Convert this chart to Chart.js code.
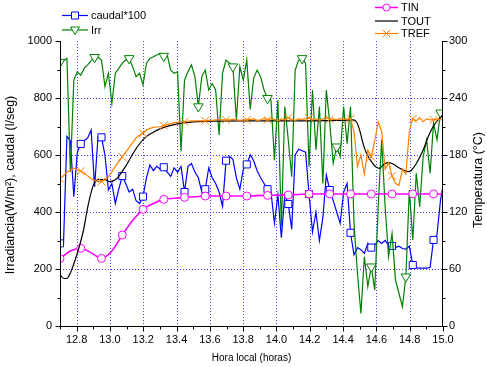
<!DOCTYPE html>
<html>
<head>
<meta charset="utf-8">
<script src="https://cdn.jsdelivr.net/npm/chart.js@4.4.1/dist/chart.umd.min.js"></script>
<style>
  html, body { margin: 0; padding: 0; background: #ffffff; }
  #wrap { width: 487px; height: 367px; position: relative; }
</style>
</head>
<body>
<div id="wrap"><canvas id="c" width="487" height="367"></canvas></div>
<script>
// Sampling of the logged records (hours, local time)
const T0 = 12.70;
const DT = 0.02077;

// Axis ticks
const xTicks = [12.8, 13.0, 13.2, 13.4, 13.6, 13.8, 14.0, 14.2, 14.4, 14.6, 14.8, 15.0];
const leftTicks = [0, 200, 400, 600, 800, 1000];
const rightTicks = [0, 60, 120, 180, 240, 300];

// Irradiance (W/m2), one value every DT
const irr = [
  926, 931, 939, 540, 863, 892, 880, 904, 916, 931,
  943, 943, 933, 840, 887, 781, 887, 904, 922, 933,
  939, 910, 875, 887, 846, 922, 939, 945, 951, 957,
  947, 951, 898, 887, 892, 612, 863, 892, 916, 875,
  770, 875, 898, 828, 851, 828, 670, 887, 933, 922,
  910, 723, 910, 863, 933, 760, 870, 898, 875, 828,
  799, 793, 582, 793, 348, 770, 653, 524, 898, 933,
  939, 922, 559, 828, 618, 770, 500, 828, 711, 571,
  629, 594, 770, 640, 770, 360, 185, 44, 243, 138,
  208, 126, 419, 653, 419, 243, 325, 161, 115, 68,
  173, 477, 302, 536, 419, 594, 653, 536, 711, 653,
  748, 740
];

// Flow rate x100 (l/seg), one value every DT
const caudal = [
  290, 285, 665, 650, 454, 610, 639, 650, 660, 688,
  489, 664, 662, 600, 477, 500, 430, 480, 526, 500,
  470, 480, 440, 430, 454, 520, 565, 545, 560, 550,
  557, 540, 525, 555, 540, 560, 470, 560, 570, 540,
  520, 470, 480, 555, 520, 500, 470, 420, 580, 595,
  585, 520, 480, 550, 567, 600, 580, 545, 520, 500,
  480, 470, 360, 460, 310, 460, 428, 340, 600, 620,
  615, 610, 463, 330, 400, 300, 380, 530, 477, 440,
  400, 360, 470, 500, 327, 250, 275, 268, 255, 290,
  275, 285, 300, 290, 300, 282, 281, 275, 280, 272,
  270, 280, 214, 205, 203, 203, 203, 205, 302, 320,
  440, 510
];

// Reference temperature (°C), one value every DT
const tref = [
  155, 158, 162, 164, 166, 164, 163, 161, 158, 155,
  153, 152, 152, 154, 157, 162, 168, 173, 178, 183,
  188, 193, 198, 201, 203, 206, 208, 209, 209.5, 210,
  211, 212, 213, 214, 214.5, 215, 215, 215.5, 216, 216,
  216, 216, 216, 216.5, 216.5, 217, 217, 217, 217, 217,
  217.5, 217, 216.5, 217, 217, 217.5, 218, 216.5, 217, 218.5,
  217, 218, 217.5, 216, 218, 217, 219, 217.5, 216.5, 218,
  217.5, 218, 219, 217, 218, 216.5, 218, 219, 217.5, 218,
  217, 218.5, 217.5, 218, 218, 205, 168, 180, 160, 185,
  178, 195, 215, 205, 165, 172, 158, 150, 148, 165,
  160, 205, 218, 216, 219, 215, 218, 217, 217, 218,
  217, 218
];

// Inlet temperature (°C), one value every 3*DT
const tin = [
  71, 79, 81.8, 77, 71.2, 79, 95.8, 111, 122.8, 129,
  133.3, 134.5, 135.4, 136, 136.8, 136.8, 136.8, 136.8, 136.8, 137.2,
  137.5, 137.7, 137.9, 138.5, 139, 139, 139, 139, 139, 139,
  139, 139, 139, 139, 139, 139, 139, 139
];

// Outlet temperature (°C) at irregular times
const toutTime = [
  12.70, 12.724, 12.74, 12.76, 12.78, 12.81, 12.84, 12.87, 12.90, 12.93,
  12.97, 13.00, 13.04, 13.09, 13.13, 13.17, 13.21, 13.25, 13.30, 13.36,
  13.45, 13.60, 13.80, 14.00, 14.20, 14.40, 14.46, 14.48, 14.50, 14.52,
  14.54, 14.57, 14.60, 14.62, 14.64, 14.67, 14.70, 14.74, 14.79, 14.81,
  14.84, 14.88, 14.92, 14.96, 15.00
];
const toutVal = [
  54, 50, 50, 55, 64, 80, 100, 128, 148, 154,
  154, 152, 155, 167, 179, 190, 198, 203, 207.5, 211,
  214, 215.5, 216, 216, 216, 216.5, 217, 215, 206, 192,
  182, 173, 167, 166, 169.5, 172, 170.5, 166, 162.5, 164,
  171, 185, 203, 215, 222
];

const FONT = '"Liberation Sans", Arial, sans-serif';

const onGrid = (vals, step) => vals.map((v, i) => ({ x: T0 + i * step, y: v }));
const everyNth = n => ctx => (ctx.dataIndex % n === 0 ? 1 : 0);

const C_BLUE = '#0000ff', C_GREEN = '#008000', C_MAG = '#ff00ff', C_ORANGE = '#ff8000';

// Frame: dotted grid under the data, axis lines and tick marks on top
const framePlugin = {
  id: 'frame',
  beforeDatasetsDraw(chart) {
    const { ctx, chartArea: a, scales } = chart;
    ctx.save();
    ctx.strokeStyle = 'rgba(20,20,255,0.8)';
    ctx.lineWidth = 1;
    ctx.setLineDash([1, 2]);
    xTicks.forEach(v => {
      const px = Math.round(scales.x.getPixelForValue(v)) + 0.5;
      if (px <= a.left + 1 || px >= a.right - 1) return;
      ctx.beginPath(); ctx.moveTo(px, a.top); ctx.lineTo(px, a.bottom); ctx.stroke();
    });
    leftTicks.forEach(v => {
      const py = Math.round(scales.y.getPixelForValue(v)) + 0.5;
      if (py <= a.top + 1 || py >= a.bottom - 1) return;
      ctx.beginPath(); ctx.moveTo(a.left, py); ctx.lineTo(a.right, py); ctx.stroke();
    });
    ctx.restore();
  },
  afterDatasetsDraw(chart) {
    const { ctx, chartArea: a, scales } = chart;
    const L = Math.round(a.left) + 0.5, R = Math.round(a.right) - 0.5, B = Math.round(a.bottom) + 0.5;
    ctx.save();
    ctx.strokeStyle = '#000';
    ctx.lineWidth = 1;
    ctx.beginPath();
    ctx.moveTo(L, a.top); ctx.lineTo(L, B); ctx.lineTo(R, B); ctx.lineTo(R, a.top);
    ctx.stroke();
    const tick = (x1, y1, x2, y2) => { ctx.beginPath(); ctx.moveTo(x1, y1); ctx.lineTo(x2, y2); ctx.stroke(); };
    // bottom axis
    for (let k = 0; k < xTicks.length; k++) {
      const v = xTicks[k];
      const px = Math.round(scales.x.getPixelForValue(v)) + 0.5;
      tick(px, B, px, B + 5);
      const m = Math.round(scales.x.getPixelForValue(v - 0.1)) + 0.5;
      tick(m, B, m, B + 3);
    }
    // left axis
    for (let k = 0; k < leftTicks.length; k++) {
      const v = leftTicks[k];
      const py = Math.round(scales.y.getPixelForValue(v)) + 0.5;
      tick(L, py, L - 5, py);
      if (k > 0) {
        const m = Math.round(scales.y.getPixelForValue(v - 100)) + 0.5;
        tick(L, m, L - 3, m);
      }
    }
    // right axis
    for (let k = 0; k < rightTicks.length; k++) {
      const v = rightTicks[k];
      const py = Math.round(scales.y1.getPixelForValue(v)) + 0.5;
      tick(R, py, R + 5, py);
      if (k > 0) {
        const m = Math.round(scales.y1.getPixelForValue(v - 30)) + 0.5;
        tick(R, m, R + 3, m);
      }
    }
    ctx.restore();
  }
};

// Axis titles and the two legend blocks
function marker(ctx, style, x, y, color) {
  ctx.save();
  ctx.strokeStyle = color;
  ctx.fillStyle = '#fff';
  ctx.lineWidth = 1;
  ctx.beginPath();
  if (style === 'rect') {
    ctx.rect(x - 3.5, y - 3.5, 7, 7); ctx.fill(); ctx.stroke();
  } else if (style === 'tri') {
    ctx.moveTo(x - 4.5, y - 3); ctx.lineTo(x + 4.5, y - 3); ctx.lineTo(x, y + 4.5); ctx.closePath();
    ctx.fill(); ctx.stroke();
  } else if (style === 'circle') {
    ctx.arc(x, y, 3.5, 0, Math.PI * 2); ctx.fill(); ctx.stroke();
  } else if (style === 'cross') {
    ctx.moveTo(x - 3.5, y - 3.5); ctx.lineTo(x + 3.5, y + 3.5);
    ctx.moveTo(x + 3.5, y - 3.5); ctx.lineTo(x - 3.5, y + 3.5);
    ctx.stroke();
  }
  ctx.restore();
}

const textPlugin = {
  id: 'texts',
  afterDraw(chart) {
    const { ctx, chartArea: a } = chart;
    ctx.save();
    ctx.fillStyle = '#000';
    ctx.font = '10px ' + FONT;
    ctx.textAlign = 'center';
    ctx.textBaseline = 'middle';
    ctx.fillText('Hora local (horas)', (a.left + a.right) / 2, 358);

    ctx.save(); ctx.translate(11, 185); ctx.rotate(-Math.PI / 2);
    ctx.font = '12.5px ' + FONT;
    ctx.fillText('Irradiancia(W/m\u00B2), caudal (l/seg)', 0, 0); ctx.restore();

    ctx.save(); ctx.translate(479, 180); ctx.rotate(-Math.PI / 2);
    ctx.font = '12.5px ' + FONT;
    ctx.fillText('Temperatura (\u00B0C)', 0, 0); ctx.restore();

    const entries = [
      { x1: 62, x2: 88, y: 15.5, color: C_BLUE, m: 'rect', label: 'caudal*100' },
      { x1: 62, x2: 88, y: 30, color: C_GREEN, m: 'tri', label: 'Irr' },
      { x1: 375, x2: 398, y: 7.5, color: C_MAG, m: 'circle', label: 'TIN', w: 1.5 },
      { x1: 375, x2: 398, y: 21, color: '#000', m: null, label: 'TOUT' },
      { x1: 375, x2: 398, y: 33.5, color: C_ORANGE, m: 'cross', label: 'TREF' }
    ];
    ctx.font = '11px ' + FONT;
    ctx.textAlign = 'left';
    ctx.textBaseline = 'middle';
    entries.forEach(e => {
      ctx.strokeStyle = e.color;
      ctx.lineWidth = e.w || 1.2;
      ctx.beginPath(); ctx.moveTo(e.x1, e.y); ctx.lineTo(e.x2, e.y); ctx.stroke();
      if (e.m) marker(ctx, e.m, (e.x1 + e.x2) / 2, e.y, e.color);
      ctx.fillStyle = '#000';
      ctx.fillText(e.label, e.x2 + 3, e.y + 0.5);
    });
    ctx.restore();
  }
};

const tickFont = { family: FONT, size: 11 };

new Chart(document.getElementById('c'), {
  type: 'line',
  data: {
    datasets: [
      {
        label: 'TREF', data: onGrid(tref, DT), yAxisID: 'y1', order: 0,
        borderColor: C_ORANGE, borderWidth: 1.2, pointStyle: 'crossRot',
        pointRadius: ctx => 5.5 * everyNth(6)(ctx), pointBorderColor: C_ORANGE,
        pointBorderWidth: 1, clip: 0
      },
      {
        label: 'TOUT', data: toutTime.map((t, i) => ({ x: t, y: toutVal[i] })), yAxisID: 'y1', order: 1,
        borderColor: '#000', borderWidth: 1.2, pointRadius: 0,
        cubicInterpolationMode: 'monotone', clip: 0
      },
      {
        label: 'TIN', data: onGrid(tin, DT * 3), yAxisID: 'y1', order: 2,
        borderColor: C_MAG, borderWidth: 1.6, pointStyle: 'circle',
        pointRadius: ctx => 4 * everyNth(2)(ctx), pointBorderColor: C_MAG,
        pointBackgroundColor: '#fff', pointBorderWidth: 1, cubicInterpolationMode: 'monotone', clip: 0
      },
      {
        label: 'Irr', data: onGrid(irr, DT), yAxisID: 'y', order: 3,
        borderColor: C_GREEN, borderWidth: 1.2, pointStyle: 'triangle', pointRotation: 180,
        pointRadius: ctx => 5.5 * everyNth(10)(ctx), pointBorderColor: C_GREEN,
        pointBackgroundColor: '#fff', pointBorderWidth: 1, clip: 0
      },
      {
        label: 'caudal*100', data: onGrid(caudal, DT), yAxisID: 'y', order: 4,
        borderColor: C_BLUE, borderWidth: 1.2, pointStyle: 'rect',
        pointRadius: ctx => 5 * everyNth(6)(ctx), pointBorderColor: C_BLUE,
        pointBackgroundColor: '#fff', pointBorderWidth: 1, clip: 0
      }
    ]
  },
  options: {
    responsive: false,
    animation: false,
    events: [],
    layout: { padding: { top: 41, left: 0, right: 0, bottom: 0 } },
    plugins: { legend: { display: false }, tooltip: { enabled: false } },
    scales: {
      x: {
        type: 'linear', position: 'bottom', min: 12.7, max: 15.0,
        grid: { display: false, drawTicks: false }, border: { display: false },
        ticks: { font: tickFont, color: '#000', padding: 7, autoSkip: false, maxRotation: 0,
                 callback: v => Number(v).toFixed(1) },
        afterBuildTicks: s => { s.ticks = xTicks.map(v => ({ value: v })); },
        afterFit: s => { s.height = 41; }
      },
      y: {
        type: 'linear', position: 'left', min: 0, max: 1000,
        grid: { display: false, drawTicks: false }, border: { display: false },
        ticks: { font: tickFont, color: '#000', padding: 8, callback: v => String(v) },
        afterBuildTicks: s => { s.ticks = leftTicks.map(v => ({ value: v })); },
        afterFit: s => { s.width = 60; }
      },
      y1: {
        type: 'linear', position: 'right', min: 0, max: 300,
        grid: { display: false, drawTicks: false }, border: { display: false },
        ticks: { font: tickFont, color: '#000', padding: 6, callback: v => String(v) },
        afterBuildTicks: s => { s.ticks = rightTicks.map(v => ({ value: v })); },
        afterFit: s => { s.width = 44; }
      }
    }
  },
  plugins: [framePlugin, textPlugin]
});
</script>
</body>
</html>
